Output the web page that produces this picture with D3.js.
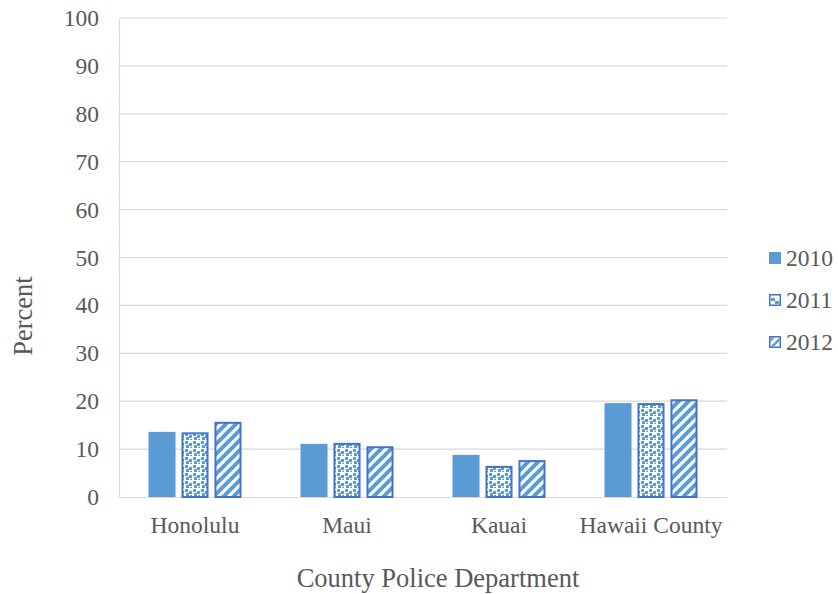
<!DOCTYPE html>
<html>
<head>
<meta charset="utf-8">
<script src="https://cdn.jsdelivr.net/npm/d3@7"></script>
<style>
  html, body { margin: 0; padding: 0; background: #fff; }
  svg { display: block; font-family: "Liberation Serif", "Times New Roman", serif; }
</style>
</head>
<body>
<svg id="chart" width="838" height="594"></svg>
<script>
// Categories and series
const departments = ["Honolulu", "Maui", "Kauai", "Hawaii County"];
const years = ["2010", "2011", "2012"];
const values2010 = [13.6, 11.1, 8.8, 19.6];
const values2011 = [13.5, 11.3, 6.5, 19.6];
const values2012 = [15.7, 10.6, 7.7, 20.4];
const yTicks = [0, 10, 20, 30, 40, 50, 60, 70, 80, 90, 100];

const seriesValues = [values2010, values2011, values2012];
const rows = [];
departments.forEach((d, i) => {
  years.forEach((y, j) => rows.push({ dept: d, year: y, value: seriesValues[j][i] }));
});

const svg = d3.select("#chart");
const margin = { left: 119, right: 111, top: 18, bottom: 97 };
const W = 838, H = 594;
const FONT = "Liberation Serif, Times New Roman, serif";
const TEXT = "#595959";
const x0 = d3.scaleBand().domain(departments).range([margin.left, W - margin.right])
  .paddingInner(0.388).paddingOuter(0.194);
const x1 = d3.scaleBand().domain(years).range([0, x0.bandwidth()]).paddingInner(0.18);
const y = d3.scaleLinear().domain([0, 100]).range([H - margin.bottom, margin.top]);

const blue = "#5B9BD5";
const edge = "#4472C4";

// Fill patterns for 2011 (confetti dots) and 2012 (wide upward diagonal)
const defs = svg.append("defs");
const dots = defs.append("pattern").attr("id", "dots").attr("patternUnits", "userSpaceOnUse")
  .attr("width", 8).attr("height", 8);
dots.append("rect").attr("width", 8).attr("height", 8).attr("fill", "#fff");
[[1, 1], [5, 3], [2, 5], [6, 7]].forEach(([px, py]) =>
  dots.append("rect").attr("x", px).attr("y", py).attr("width", 3).attr("height", 3).attr("fill", blue));
const diag = defs.append("pattern").attr("id", "diag").attr("patternUnits", "userSpaceOnUse")
  .attr("width", 10).attr("height", 10);
diag.append("rect").attr("width", 10).attr("height", 10).attr("fill", "#fff");
diag.append("path").attr("d", "M-2,12 L12,-2 M-7,7 L7,-7 M3,17 L17,3")
  .attr("stroke", blue).attr("stroke-width", 4);

const fills = { "2010": blue, "2011": "url(#dots)", "2012": "url(#diag)" };

// Gridlines
svg.append("g").selectAll("line").data(yTicks.filter(t => t > 0)).join("line")
  .attr("x1", margin.left).attr("x2", W - margin.right)
  .attr("y1", d => y(d)).attr("y2", d => y(d))
  .attr("stroke", "#d9d9d9").attr("stroke-width", 1.2);

// Y axis
const yAxis = svg.append("g").attr("transform", `translate(${margin.left},0)`)
  .call(d3.axisLeft(y).tickValues(yTicks).tickSize(0).tickPadding(20));
yAxis.select(".domain").attr("stroke", "#d9d9d9").attr("stroke-width", 1.2);
yAxis.selectAll("text").attr("font-size", 23.5).attr("fill", TEXT).attr("font-family", FONT);

// X axis
const xAxis = svg.append("g").attr("transform", `translate(0,${H - margin.bottom})`)
  .call(d3.axisBottom(x0).tickSize(0));
xAxis.select(".domain").attr("stroke", "#d9d9d9").attr("stroke-width", 1.2);
xAxis.selectAll("text").attr("font-size", 23.5).attr("fill", TEXT).attr("font-family", FONT)
  .attr("y", 36).attr("dy", null);

// Bars
svg.append("g").selectAll("rect").data(rows).join("rect")
  .attr("x", d => x0(d.dept) + x1(d.year) + (d.year === "2010" ? 0 : 1))
  .attr("width", d => x1.bandwidth() - (d.year === "2010" ? 0 : 2))
  .attr("y", d => y(d.value) + (d.year === "2010" ? 0 : 1))
  .attr("height", d => y(0) - y(d.value) - (d.year === "2010" ? 0 : 1))
  .attr("fill", d => fills[d.year])
  .attr("stroke", d => d.year === "2010" ? "none" : edge)
  .attr("stroke-width", 2);

// Axis titles
svg.append("text").attr("x", 438).attr("y", 587)
  .attr("text-anchor", "middle").attr("font-size", 26.5).attr("fill", TEXT)
  .text("County Police Department");
svg.append("text").attr("transform", "translate(32,316) rotate(-90)")
  .attr("text-anchor", "middle").attr("font-size", 26.5).attr("fill", TEXT)
  .text("Percent");

// Legend
const legend = svg.append("g").selectAll("g").data(years).join("g")
  .attr("transform", (d, i) => `translate(769,${258 + i * 42})`);
legend.append("rect").attr("x", 0.75).attr("y", -5.25).attr("width", 10.5).attr("height", 10.5)
  .attr("fill", d => d === "2010" ? blue : "#fff")
  .attr("stroke", d => d === "2010" ? blue : edge).attr("stroke-width", 1.5);
legend.filter(d => d === "2011").append("rect").attr("x", 2).attr("y", -2).attr("width", 4).attr("height", 3).attr("fill", blue);
legend.filter(d => d === "2011").append("rect").attr("x", 6).attr("y", 1).attr("width", 4).attr("height", 3).attr("fill", blue);
legend.filter(d => d === "2012").append("path").attr("d", "M1.5,4.5 L10.5,-4.5 L10.5,-1 L5,4.5 Z").attr("fill", blue);
legend.filter(d => d === "2012").append("path").attr("d", "M1.5,0 L6,-4.5 L1.5,-4.5 Z").attr("fill", blue);
legend.append("text").attr("x", 17).attr("y", 8).attr("font-size", 23.5).attr("fill", TEXT)
  .text(d => d);
</script>
</body>
</html>
